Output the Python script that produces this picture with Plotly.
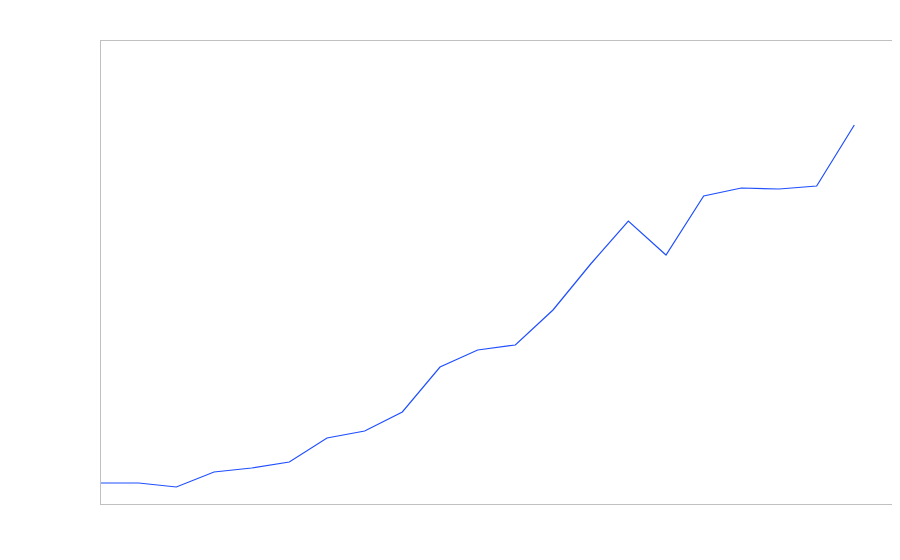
import plotly.graph_objects as go

x_index = list(range(21))
values = [21, 21, 17, 32, 36, 42, 66, 73, 92, 137, 154, 159, 194, 240, 283, 249, 308, 316, 315, 318, 379]

fig = go.Figure()
fig.add_trace(go.Scatter(x=x_index, y=values, mode="lines",
                         line=dict(color="#1f4fff", width=1.2)))
fig.update_layout(
    width=900, height=560,
    margin=dict(l=93, r=16, t=33, b=64),
    paper_bgcolor="white", plot_bgcolor="white",
    showlegend=False,
)
fig.update_xaxes(range=[0, 21], showgrid=False, zeroline=False, showticklabels=False,
                 showline=True, mirror=True, linecolor="#c0c0c0", linewidth=1, ticks="")
fig.update_yaxes(range=[0, 463], showgrid=False, zeroline=False, showticklabels=False,
                 showline=True, mirror=True, linecolor="#c0c0c0", linewidth=1, ticks="")
fig.write_html("out.html")
